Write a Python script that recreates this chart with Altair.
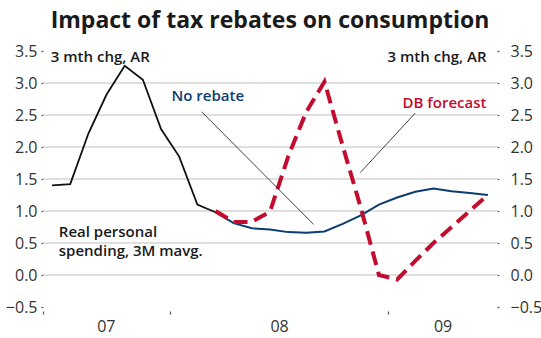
import altair as alt
import pandas as pd

# ---- data -------------------------------------------------------------
months = ["2007-06", "2007-07", "2007-08", "2007-09", "2007-10", "2007-11",
          "2007-12", "2008-01", "2008-02", "2008-03", "2008-04", "2008-05",
          "2008-06", "2008-07", "2008-08", "2008-09", "2008-10", "2008-11",
          "2008-12", "2009-01", "2009-02", "2009-03", "2009-04", "2009-05",
          "2009-06"]

spending = [1.40, 1.42, 2.21, 2.82, 3.27, 3.05, 2.28, 1.85, 1.10, 0.98,
            None, None, None, None, None, None, None, None, None, None,
            None, None, None, None, None]
no_rebate = [None, None, None, None, None, None, None, None, None,
             0.98, 0.81, 0.73, 0.71, 0.67, 0.66, 0.68, 0.80, 0.93, 1.10,
             1.21, 1.30, 1.35, 1.31, 1.28, 1.25]
db_forecast = [None, None, None, None, None, None, None, None, None,
               1.00, 0.83, 0.83, 0.99, 1.85, 2.55, 3.02, 2.02, 1.05, 0.00,
               -0.07, 0.22, 0.50, 0.75, 1.00, 1.25]

# x positions are month indices (0 = Jun 2007)
year_ticks = [-0.5, 6.5, 18.5]
year_label_pos = [2.96, 12.5, 21.5]
year_labels = ["07", "08", "09"]
y_ticks = [-0.5, 0.0, 0.5, 1.0, 1.5, 2.0, 2.5, 3.0, 3.5]
grid_values = [0.0, 0.5, 1.0, 1.5, 2.0, 2.5, 3.0]

ann_text = ["3 mth chg, AR", "3 mth chg, AR", "No rebate", "DB forecast",
            "Real personal", "spending, 3M mavg."]
ann_x = [-0.07, 23.92, 6.58, 23.92, 0.37, 0.37]
ann_y = [3.40, 3.40, 2.79, 2.69, 0.67, 0.37]
ann_align = ["left", "right", "left", "right", "left", "left"]
ann_color = ["#1a1a1a", "#1a1a1a", "#0c3c70", "#c30c2e", "#1a1a1a", "#1a1a1a"]

leader_x1 = [8.24, 20.0]
leader_y1 = [2.55, 2.53]
leader_x2 = [14.4, 16.97]
leader_y2 = [0.79, 1.60]

# ---- frames -------------------------------------------------------------
idx = list(range(len(months)))
rows = []
for name, vals in [("spending", spending), ("no_rebate", no_rebate),
                   ("db_forecast", db_forecast)]:
    for i, m, v in zip(idx, months, vals):
        if v is not None:
            rows.append({"t": i, "month": m, "value": v, "series": name})
df = pd.DataFrame(rows)
grid_df = pd.DataFrame({"v": grid_values})
ann_df = pd.DataFrame({"text": ann_text, "ax": ann_x, "ay": ann_y,
                       "align": ann_align, "color": ann_color})
lead_df = pd.DataFrame({"lx1": leader_x1, "ly1": leader_y1,
                        "lx2": leader_x2, "ly2": leader_y2})

W, H = 454, 256
FONT = "Open Sans"
NAVY = "#0c3c70"
RED = "#c30c2e"

yscale = alt.Scale(domain=[-0.5, 3.5], nice=False, zero=False)
xscale = alt.Scale(domain=[-0.5, 24.5], nice=False, zero=False)

label_expr = " : ".join(
    f"datum.value == {p} ? '{l}'" for p, l in zip(year_label_pos, year_labels)
) + " : ''"
hide_test = "indexof([" + ",".join(str(p) for p in year_label_pos) + "], datum.value) >= 0"

x_axis = alt.Axis(values=year_ticks + year_label_pos, labelExpr=label_expr,
                  tickOpacity={"condition": {"test": hide_test, "value": 0}, "value": 1},
                  tickSize=3, tickColor="#555", tickWidth=1.2, offset=4,
                  domain=False, grid=False, labelPadding=4, labelFontSize=16,
                  labelFont=FONT, labelColor="#333", labelFlush=False,
                  labelOverlap=False, title=None)


def x_enc(field):
    return alt.X(f"{field}:Q", scale=xscale, axis=x_axis)


def y_axis(orient, pad):
    return alt.Axis(orient=orient, values=y_ticks, format=".1f", tickSize=2,
                    tickColor="#555", tickWidth=1.2, domain=False, grid=False,
                    labelPadding=pad, labelFontSize=16, labelFont=FONT,
                    labelColor="#333", title=None)


grid = alt.Chart(grid_df).mark_rule(color="#d5d5d5", strokeWidth=1.5).encode(
    y=alt.Y("v:Q", scale=yscale, axis=None),
    x=alt.value(0), x2=alt.value(W))

black = alt.Chart(df).transform_filter("datum.series == 'spending'").mark_line(
    color="#111111", strokeWidth=1.8).encode(
    x=x_enc("t"), y=alt.Y("value:Q", scale=yscale, axis=y_axis("left", 4)))

blue = alt.Chart(df).transform_filter("datum.series == 'no_rebate'").mark_line(
    color=NAVY, strokeWidth=2).encode(
    x=x_enc("t"), y=alt.Y("value:Q", scale=yscale, axis=y_axis("right", 11)))

red = alt.Chart(df).transform_filter("datum.series == 'db_forecast'").mark_line(
    color=RED, strokeWidth=4, strokeDash=[14, 7]).encode(
    x=x_enc("t"), y=alt.Y("value:Q", scale=yscale, axis=None))

leaders = alt.Chart(lead_df).mark_rule(color="#111111", strokeWidth=0.8).encode(
    x=x_enc("lx1"), y=alt.Y("ly1:Q", scale=yscale, axis=None),
    x2="lx2:Q", y2="ly2:Q")

texts = []
for al in ["left", "right"]:
    texts.append(
        alt.Chart(ann_df).transform_filter(f"datum.align == '{al}'").mark_text(
            align=al, baseline="middle", font=FONT, fontSize=15,
            fontWeight=600).encode(
            x=x_enc("ax"), y=alt.Y("ay:Q", scale=yscale, axis=None),
            text="text:N", color=alt.Color("color:N", scale=None))
    )

chart = alt.layer(grid, blue, black, red, leaders, *texts).resolve_axis(
    y="independent"
).properties(
    width=W, height=H,
    title=alt.Title("Impact of tax rebates on consumption", fontSize=23,
                    font=FONT, fontWeight="bold", color="#1a1a1a",
                    anchor="middle", frame="group", offset=-8,
                    baseline="alphabetic"),
    autosize=alt.AutoSizeParams(type="none"),
    padding={"left": 43, "top": 51, "right": 44, "bottom": 31},
).configure_view(stroke=None)

chart.save("out.html", embed_options={"renderer": "svg", "actions": False})
